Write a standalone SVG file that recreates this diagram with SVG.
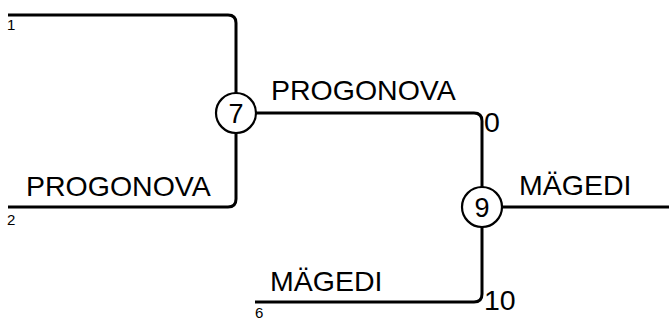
<svg xmlns="http://www.w3.org/2000/svg" width="669" height="320" viewBox="0 0 669 320">
<style>
.ln{fill:none;stroke:#000;stroke-width:3}
.nd{fill:#fff;stroke:#000;stroke-width:2.2}
.big{font-family:"Liberation Sans",Arial,sans-serif;font-size:28.5px;fill:#000}
.sm{font-family:"Liberation Sans",Arial,sans-serif;font-size:15px;fill:#000}
.nt{font-family:"Liberation Sans",Arial,sans-serif;font-size:27px;fill:#000;text-anchor:middle}
</style>
<rect width="669" height="320" fill="#fff"/>
<g id="connectors">
<path class="ln" d="M8,15 H228 Q236,15 236,23 V113"/>
<path class="ln" d="M8,207 H228 Q236,207 236,199 V113"/>
<path class="ln" d="M236,113 H474 Q482,113 482,121 V207"/>
<path class="ln" d="M255,302 H474 Q482,302 482,294 V207"/>
<path class="ln" d="M482,207 H669"/>
</g>
<g id="labels">
<text class="sm" x="7" y="30">1</text>
<text class="sm" x="7" y="225">2</text>
<text class="sm" x="255" y="318">6</text>
<text class="big" x="26" y="196">PROGONOVA</text>
<text class="big" x="271" y="100">PROGONOVA</text>
<text class="big" x="519" y="195">MÄGEDI</text>
<text class="big" x="270" y="291">MÄGEDI</text>
<text class="big" x="484" y="132">0</text>
<text class="big" x="484" y="310">10</text>
</g>
<g id="node7">
<circle class="nd" cx="236" cy="113" r="20"/>
<text class="nt" x="236" y="122.5">7</text>
</g>
<g id="node9">
<circle class="nd" cx="482" cy="207" r="20"/>
<text class="nt" x="482" y="216.5">9</text>
</g>
</svg>
